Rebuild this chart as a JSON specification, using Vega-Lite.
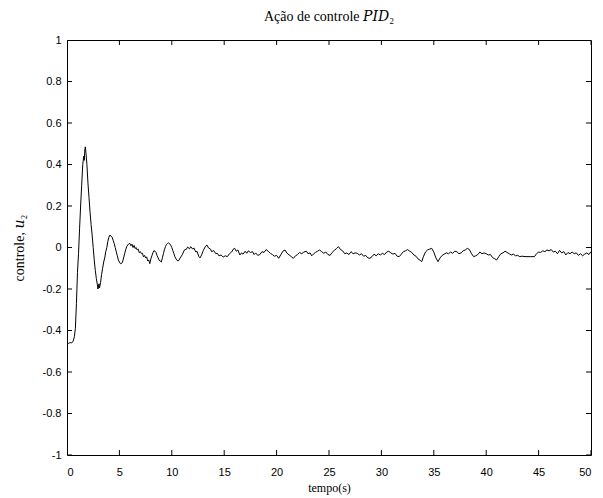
{
  "$schema": "https://vega.github.io/schema/vega-lite/v6.json",
  "width": 524,
  "height": 415,
  "autosize": {"type": "none"},
  "padding": {"left": 67, "top": 40, "right": 12, "bottom": 43},
  "background": "white",
  "title": {"text": "Ação de controle 𝑃𝐼𝐷₂", "font": "Liberation Serif, DejaVu Serif", "fontSize": 14, "fontWeight": "normal", "color": "black", "offset": 10},
  "config": {
    "view": {"stroke": "black", "strokeWidth": 1},
    "axis": {"domain": false, "grid": false, "ticks": false, "tickSize": 0, "labelColor": "black", "labelFont": "Liberation Sans", "labelFontSize": 11, "titleFont": "Liberation Serif, DejaVu Serif", "titleFontSize": 12, "titleFontWeight": "normal", "titleColor": "black"}
  },
  "datasets": {
    "xt": [{"v":0},{"v":5},{"v":10},{"v":15},{"v":20},{"v":25},{"v":30},{"v":35},{"v":40},{"v":45},{"v":50}],
    "yt": [{"v":-1},{"v":-0.8},{"v":-0.6},{"v":-0.4},{"v":-0.2},{"v":0},{"v":0.2},{"v":0.4},{"v":0.6},{"v":0.8},{"v":1}],
    "sig": [
    {"t":0,"u":-0.46},{"t":0.15,"u":-0.462},{"t":0.3,"u":-0.458},{"t":0.45,"u":-0.46},{"t":0.6,"u":-0.45},{"t":0.7,"u":-0.43},{"t":0.8,"u":-0.39},{"t":0.9,"u":-0.27},{"t":1.0,"u":-0.12},{"t":1.1,"u":-0.03},{"t":1.2,"u":0.09},{"t":1.3,"u":0.2},{"t":1.4,"u":0.3},{"t":1.5,"u":0.4},{"t":1.6,"u":0.44},{"t":1.65,"u":0.42},{"t":1.7,"u":0.47},{"t":1.75,"u":0.485},{"t":1.8,"u":0.46},{"t":1.9,"u":0.4},{"t":2.0,"u":0.31},{"t":2.1,"u":0.24},{"t":2.2,"u":0.17},{"t":2.3,"u":0.11},{"t":2.4,"u":0.06},{"t":2.5,"u":0.0},{"t":2.6,"u":-0.06},{"t":2.7,"u":-0.11},{"t":2.8,"u":-0.15},{"t":2.9,"u":-0.18},{"t":2.95,"u":-0.2},{"t":3.0,"u":-0.19},{"t":3.05,"u":-0.175},{"t":3.1,"u":-0.195},{"t":3.2,"u":-0.17},{"t":3.3,"u":-0.13},{"t":3.4,"u":-0.1},{"t":3.5,"u":-0.07},{"t":3.6,"u":-0.05},{"t":3.7,"u":-0.02},{"t":3.8,"u":0.0},{"t":3.9,"u":0.03},{"t":4.0,"u":0.05},{"t":4.1,"u":0.06},{"t":4.2,"u":0.055},{"t":4.3,"u":0.05},{"t":4.4,"u":0.035},{"t":4.5,"u":0.02},{"t":4.6,"u":0.0},{"t":4.7,"u":-0.02},{"t":4.8,"u":-0.04},{"t":4.9,"u":-0.06},{"t":5.0,"u":-0.07},{"t":5.1,"u":-0.078},{"t":5.2,"u":-0.077},{"t":5.3,"u":-0.07},{"t":5.4,"u":-0.05},{"t":5.5,"u":-0.03},{"t":5.6,"u":-0.01},{"t":5.7,"u":0.005},{"t":5.8,"u":0.012},{"t":5.9,"u":0.018},{"t":6.0,"u":0.02},{"t":6.1,"u":0.008},{"t":6.2,"u":0.016},{"t":6.3,"u":0.0},{"t":6.4,"u":0.01},{"t":6.5,"u":-0.005},{"t":6.6,"u":0.0},{"t":6.7,"u":-0.012},{"t":6.8,"u":-0.008},{"t":6.9,"u":-0.025},{"t":7.0,"u":-0.02},{"t":7.1,"u":-0.03},{"t":7.2,"u":-0.028},{"t":7.3,"u":-0.045},{"t":7.4,"u":-0.038},{"t":7.5,"u":-0.05},{"t":7.6,"u":-0.045},{"t":7.7,"u":-0.065},{"t":7.8,"u":-0.06},{"t":7.9,"u":-0.078},{"t":8.0,"u":-0.055},{"t":8.1,"u":-0.04},{"t":8.2,"u":-0.025},{"t":8.3,"u":-0.015},{"t":8.4,"u":-0.018},{"t":8.5,"u":-0.025},{"t":8.6,"u":-0.04},{"t":8.7,"u":-0.05},{"t":8.8,"u":-0.062},{"t":8.9,"u":-0.065},{"t":9.0,"u":-0.07},{"t":9.1,"u":-0.05},{"t":9.2,"u":-0.03},{"t":9.3,"u":-0.01},{"t":9.4,"u":0.005},{"t":9.5,"u":0.015},{"t":9.6,"u":0.02},{"t":9.7,"u":0.022},{"t":9.8,"u":0.018},{"t":9.9,"u":0.01},{"t":10.0,"u":0.0},{"t":10.1,"u":-0.015},{"t":10.2,"u":-0.03},{"t":10.3,"u":-0.045},{"t":10.4,"u":-0.055},{"t":10.5,"u":-0.062},{"t":10.6,"u":-0.065},{"t":10.7,"u":-0.06},{"t":10.8,"u":-0.05},
    {"t":11.0,"u":-0.035},{"t":11.2,"u":-0.012},{"t":11.4,"u":-0.008},{"t":11.5,"u":0.002},{"t":11.7,"u":-0.006},{"t":11.8,"u":0.004},{"t":12.0,"u":-0.008},{"t":12.1,"u":-0.002},{"t":12.3,"u":-0.022},{"t":12.4,"u":-0.018},{"t":12.6,"u":-0.045},{"t":12.7,"u":-0.05},{"t":12.85,"u":-0.035},{"t":13.0,"u":-0.015},{"t":13.2,"u":0.005},{"t":13.35,"u":0.012},{"t":13.5,"u":-0.002},{"t":13.7,"u":-0.008},{"t":13.8,"u":-0.02},{"t":14.0,"u":-0.015},{"t":14.2,"u":-0.03},{"t":14.35,"u":-0.028},{"t":14.5,"u":-0.04},{"t":14.7,"u":-0.036},{"t":14.9,"u":-0.046},{"t":15.1,"u":-0.04},{"t":15.3,"u":-0.044},{"t":15.5,"u":-0.03},{"t":15.7,"u":-0.022},{"t":15.9,"u":-0.006},{"t":16.0,"u":-0.004},{"t":16.15,"u":-0.018},{"t":16.3,"u":-0.012},{"t":16.5,"u":-0.036},{"t":16.65,"u":-0.026},{"t":16.8,"u":-0.032},{"t":17.0,"u":-0.018},{"t":17.15,"u":-0.028},{"t":17.3,"u":-0.016},{"t":17.5,"u":-0.024},{"t":17.7,"u":-0.02},{"t":17.85,"u":-0.034},{"t":18.0,"u":-0.026},{"t":18.2,"u":-0.038},{"t":18.4,"u":-0.034},{"t":18.6,"u":-0.02},{"t":18.8,"u":-0.024},{"t":19.0,"u":-0.01},{"t":19.2,"u":-0.018},{"t":19.4,"u":-0.028},{"t":19.6,"u":-0.034},{"t":19.8,"u":-0.042},{"t":20.0,"u":-0.038},{"t":20.2,"u":-0.052},{"t":20.4,"u":-0.035},{"t":20.6,"u":-0.018},{"t":20.8,"u":-0.012},{"t":21.0,"u":-0.028},{"t":21.2,"u":-0.036},{"t":21.4,"u":-0.044},{"t":21.6,"u":-0.052},{"t":21.8,"u":-0.04},{"t":22.0,"u":-0.034},{"t":22.2,"u":-0.024},{"t":22.4,"u":-0.03},{"t":22.6,"u":-0.022},{"t":22.85,"u":-0.018},{"t":23.0,"u":-0.03},{"t":23.2,"u":-0.026},{"t":23.35,"u":-0.04},{"t":23.5,"u":-0.032},{"t":23.7,"u":-0.024},{"t":23.9,"u":-0.018},{"t":24.1,"u":-0.012},{"t":24.3,"u":-0.02},{"t":24.5,"u":-0.028},{"t":24.7,"u":-0.022},{"t":24.9,"u":-0.034},{"t":25.1,"u":-0.038},{"t":25.3,"u":-0.024},{"t":25.5,"u":-0.014},{"t":25.7,"u":-0.006},{"t":25.9,"u":0.004},{"t":26.1,"u":-0.01},{"t":26.3,"u":-0.016},{"t":26.5,"u":-0.03},{"t":26.7,"u":-0.026},{"t":26.9,"u":-0.034},{"t":27.1,"u":-0.02},{"t":27.3,"u":-0.03},{"t":27.5,"u":-0.026},{"t":27.7,"u":-0.028},{"t":27.9,"u":-0.036},{"t":28.1,"u":-0.03},{"t":28.3,"u":-0.042},{"t":28.5,"u":-0.038},{"t":28.7,"u":-0.05},{"t":28.9,"u":-0.052},{"t":29.1,"u":-0.044},{"t":29.3,"u":-0.032},{"t":29.5,"u":-0.04},{"t":29.7,"u":-0.03},{"t":29.9,"u":-0.036},{"t":30.1,"u":-0.028},{"t":30.3,"u":-0.034},{"t":30.5,"u":-0.022},{"t":30.7,"u":-0.018},{"t":30.9,"u":-0.026},{"t":31.1,"u":-0.032},{"t":31.3,"u":-0.028},{"t":31.5,"u":-0.042},{"t":31.7,"u":-0.044},{"t":31.9,"u":-0.032},{"t":32.1,"u":-0.02},{"t":32.3,"u":-0.016},{"t":32.5,"u":-0.01},{"t":32.7,"u":-0.018},{"t":32.9,"u":-0.024},{"t":33.1,"u":-0.036},{"t":33.3,"u":-0.042},{"t":33.5,"u":-0.055},{"t":33.7,"u":-0.062},{"t":33.85,"u":-0.068},{"t":34.0,"u":-0.045},{"t":34.2,"u":-0.022},{"t":34.4,"u":-0.012},{"t":34.6,"u":-0.008},{"t":34.8,"u":-0.004},{"t":35.0,"u":-0.022},{"t":35.2,"u":-0.05},{"t":35.4,"u":-0.068},{"t":35.6,"u":-0.05},{"t":35.8,"u":-0.038},{"t":36.0,"u":-0.032},{"t":36.2,"u":-0.026},{"t":36.4,"u":-0.03},{"t":36.6,"u":-0.022},{"t":36.8,"u":-0.028},{"t":37.0,"u":-0.018},{"t":37.2,"u":-0.02},{"t":37.4,"u":-0.03},{"t":37.6,"u":-0.026},{"t":37.8,"u":-0.016},{"t":38.0,"u":-0.012},{"t":38.2,"u":-0.004},{"t":38.4,"u":-0.01},{"t":38.6,"u":-0.03},{"t":38.8,"u":-0.044},{"t":39.0,"u":-0.04},{"t":39.2,"u":-0.034},{"t":39.4,"u":-0.022},{"t":39.6,"u":-0.03},{"t":39.8,"u":-0.026},{"t":40.0,"u":-0.03},{"t":40.2,"u":-0.036},{"t":40.4,"u":-0.034},{"t":40.6,"u":-0.048},{"t":40.8,"u":-0.054},{"t":41.0,"u":-0.06},{"t":41.2,"u":-0.044},{"t":41.4,"u":-0.03},{"t":41.6,"u":-0.026},{"t":41.8,"u":-0.018},{"t":42.0,"u":-0.024},{"t":42.2,"u":-0.03},{"t":42.4,"u":-0.036},{"t":42.6,"u":-0.032},{"t":42.8,"u":-0.04},{"t":43.0,"u":-0.038},{"t":43.2,"u":-0.044},{"t":43.4,"u":-0.042},{"t":43.8,"u":-0.044},{"t":44.2,"u":-0.044},{"t":44.6,"u":-0.044},{"t":44.8,"u":-0.03},{"t":45.0,"u":-0.022},{"t":45.2,"u":-0.024},{"t":45.4,"u":-0.016},{"t":45.6,"u":-0.02},{"t":45.8,"u":-0.012},{"t":46.0,"u":-0.016},{"t":46.2,"u":-0.01},{"t":46.4,"u":-0.022},{"t":46.6,"u":-0.018},{"t":46.8,"u":-0.03},{"t":47.0,"u":-0.014},{"t":47.2,"u":-0.026},{"t":47.4,"u":-0.02},{"t":47.6,"u":-0.036},{"t":47.8,"u":-0.024},{"t":48.0,"u":-0.03},{"t":48.2,"u":-0.022},{"t":48.4,"u":-0.03},{"t":48.6,"u":-0.026},{"t":48.8,"u":-0.038},{"t":49.0,"u":-0.03},{"t":49.2,"u":-0.04},{"t":49.4,"u":-0.032},{"t":49.6,"u":-0.026},{"t":49.8,"u":-0.034},{"t":50.0,"u":-0.02}
  ]},
  "layer": [
    {
      "data": {"name": "sig"},
      "mark": {"type": "line", "color": "black", "strokeWidth": 1, "clip": true},
      "encoding": {
        "x": {"field": "t", "type": "quantitative", "scale": {"domain": [0, 50], "nice": false},
          "axis": {"orient": "bottom", "values": [0,5,10,15,20,25,30,35,40,45,50], "labelPadding": 11, "title": "tempo(s)", "titlePadding": 5, "labelExpr": "'' + datum.value"}},
        "y": {"field": "u", "type": "quantitative", "scale": {"domain": [-1, 1], "nice": false, "zero": false},
          "axis": {"orient": "left", "values": [-1,-0.8,-0.6,-0.4,-0.2,0,0.2,0.4,0.6,0.8,1], "labelPadding": 6, "title": "controle, 𝑢₂", "titleFontSize": 14, "titlePadding": 16, "labelExpr": "'' + datum.value"}}
      }
    },
    {
      "data": {"name": "xt"},
      "mark": {"type": "tick", "orient": "vertical", "color": "black", "size": 10, "thickness": 1, "opacity": 1, "clip": true},
      "encoding": {"x": {"field": "v", "type": "quantitative", "axis": null}, "y": {"datum": -1, "axis": null}}
    },
    {
      "data": {"name": "xt"},
      "mark": {"type": "tick", "orient": "vertical", "color": "black", "size": 10, "thickness": 1, "opacity": 1, "clip": true},
      "encoding": {"x": {"field": "v", "type": "quantitative", "axis": null}, "y": {"datum": 1, "axis": null}}
    },
    {
      "data": {"name": "yt"},
      "mark": {"type": "tick", "orient": "horizontal", "color": "black", "size": 10, "thickness": 1, "opacity": 1, "clip": true},
      "encoding": {"y": {"field": "v", "type": "quantitative", "axis": null}, "x": {"datum": 0, "axis": null}}
    },
    {
      "data": {"name": "yt"},
      "mark": {"type": "tick", "orient": "horizontal", "color": "black", "size": 10, "thickness": 1, "opacity": 1, "clip": true},
      "encoding": {"y": {"field": "v", "type": "quantitative", "axis": null}, "x": {"datum": 50, "axis": null}}
    }
  ],
  "resolve": {"axis": {"x": "independent", "y": "independent"}}
}
